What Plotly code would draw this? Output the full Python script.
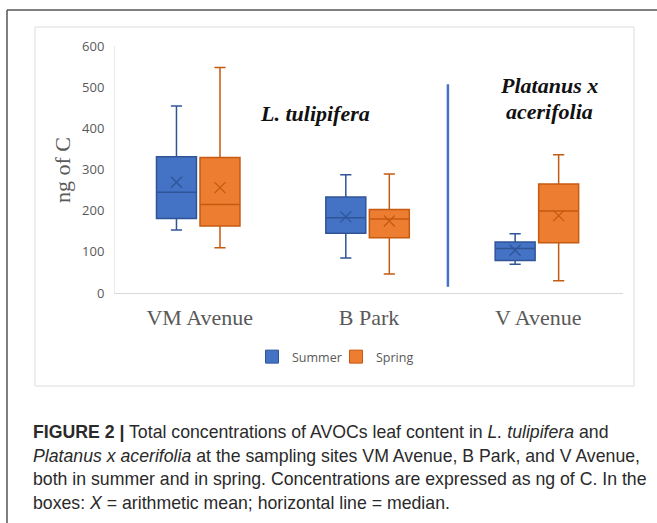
import plotly.graph_objects as go

# ---------------- data ----------------
sites = ["VM Avenue", "B Park", "V Avenue"]
y_ticks = [0, 100, 200, 300, 400, 500, 600]

summer_lower = [153, 85, 70]
summer_q1 = [181, 145, 79]
summer_median = [245, 183, 108]
summer_q3 = [331, 233, 124]
summer_upper = [454, 287, 144]
summer_mean = [269, 185, 104]

spring_lower = [110, 46, 30]
spring_q1 = [163, 134, 122]
spring_median = [215, 180, 199]
spring_q3 = [329, 203, 265]
spring_upper = [548, 289, 336]
spring_mean = [256, 175, 188]

# ---------------- layout geometry ----------------
W, H = 657, 523
L, R, T, B = 115, 623, 46, 293  # plot area in pixels


def PX(px):
    return (px - L) / (R - L)


def PY(py):
    return (B - py) / (B - T)


SUM_FILL, SUM_LINE = "#4472C4", "#2F5597"
SPR_FILL, SPR_LINE = "#ED7D31", "#C55A11"
OFF_SUM, OFF_SPR = -0.137, 0.12
BOXW = 0.236

fig = go.Figure()

for name, off, lo, q1, med, q3, up, mean, fill, line in [
    ("Summer", OFF_SUM, summer_lower, summer_q1, summer_median, summer_q3,
     summer_upper, summer_mean, SUM_FILL, SUM_LINE),
    ("Spring", OFF_SPR, spring_lower, spring_q1, spring_median, spring_q3,
     spring_upper, spring_mean, SPR_FILL, SPR_LINE),
]:
    pos = [i + off for i in range(len(sites))]
    fig.add_trace(go.Box(
        x=pos, q1=q1, median=med, q3=q3, lowerfence=lo, upperfence=up,
        width=BOXW, whiskerwidth=0.28, fillcolor=fill,
        line=dict(color=line, width=1.5), showlegend=False,
        hoverinfo="skip", boxpoints=False,
    ))
    fig.add_trace(go.Scatter(
        x=pos, y=mean, mode="markers", showlegend=False, hoverinfo="skip",
        marker=dict(symbol="x-thin", size=11, line=dict(color=line, width=1.3)),
    ))
    # legend entry
    fig.add_trace(go.Scatter(
        x=[None], y=[None], mode="markers", name=name,
        marker=dict(symbol="square", size=13, color=fill,
                    line=dict(color=line, width=1)),
    ))

serif = "Liberation Serif, Times New Roman, serif"
sans = "Open Sans, Liberation Sans, sans-serif"
cap_font = "Liberation Sans, Arial, sans-serif"

shapes = [
    # inner chart frame
    dict(type="rect", xref="paper", yref="paper", x0=PX(35), x1=PX(634),
         y0=PY(27), y1=PY(386), line=dict(color="#dcdcdc", width=1), layer="below"),
    # outer page frame
    dict(type="line", xref="paper", yref="paper", x0=PX(7), x1=PX(660),
         y0=PY(10), y1=PY(10), line=dict(color="#555555", width=1.5)),
    dict(type="line", xref="paper", yref="paper", x0=PX(7), x1=PX(7),
         y0=PY(10), y1=PY(530), line=dict(color="#555555", width=1.5)),
    # species divider
    dict(type="line", xref="x", yref="y", x0=1.466, x1=1.466, y0=15, y1=507,
         line=dict(color="#4472C4", width=2.5)),
]

annotations = [
    dict(xref="paper", yref="paper", x=PX(62), y=PY(170), text="ng of C",
         xanchor="center", yanchor="middle",
         textangle=-90, showarrow=False, font=dict(family=serif, size=22, color="#595959")),
    dict(xref="paper", yref="paper", x=PX(315), y=PY(113), text="<b><i>L. tulipifera</i></b>",
         xanchor="center", yanchor="middle",
         showarrow=False, font=dict(family=serif, size=22, color="#111111")),
    dict(xref="paper", yref="paper", x=PX(549), y=PY(85), text="<b><i>Platanus x</i></b>",
         xanchor="center", yanchor="middle",
         showarrow=False, font=dict(family=serif, size=22, color="#111111")),
    dict(xref="paper", yref="paper", x=PX(549), y=PY(112), text="<b><i>acerifolia</i></b>",
         xanchor="center", yanchor="middle",
         showarrow=False, font=dict(family=serif, size=22, color="#111111")),
]

caption = [
    "<b>FIGURE 2 |</b> Total concentrations of AVOCs leaf content in <i>L. tulipifera</i> and",
    "<i>Platanus x acerifolia</i> at the sampling sites VM Avenue, B Park, and V Avenue,",
    "both in summer and in spring. Concentrations are expressed as ng of C. In the",
    "boxes: <i>X</i> = arithmetic mean; horizontal line = median.",
]
for k, line in enumerate(caption):
    annotations.append(dict(
        xref="paper", yref="paper", x=PX(31), y=PY(432 + 23.7 * k),
        xanchor="left", yanchor="middle", text=line, showarrow=False,
        font=dict(family=cap_font, size=17.7, color="#2a2a2a"),
    ))

fig.update_layout(
    width=W, height=H,
    margin=dict(l=L, r=W - R, t=T, b=H - B, pad=0),
    paper_bgcolor="white", plot_bgcolor="white",
    showlegend=True,
    legend=dict(orientation="h", x=PX(336), y=PY(357), xanchor="center",
                yanchor="middle", font=dict(family=sans, size=12.5, color="#595959"),
                itemwidth=30, entrywidth=39, entrywidthmode="pixels",
                bgcolor="rgba(0,0,0,0)"),
    xaxis=dict(range=[-0.5, 2.5], tickmode="array", tickvals=list(range(len(sites))),
               ticktext=sites, showgrid=False, zeroline=False, showline=True,
               linecolor="#d9d9d9", linewidth=1, ticks="", ticklabelstandoff=5,
               tickfont=dict(family=serif, size=22, color="#595959"), fixedrange=True),
    yaxis=dict(range=[0, 600], tickmode="array", tickvals=y_ticks,
               showgrid=False, zeroline=False, showline=True, linecolor="#ececec",
               linewidth=1, ticks="", ticklabelstandoff=7,
               tickfont=dict(family=sans, size=13, color="#595959"), fixedrange=True),
    shapes=shapes, annotations=annotations,
)

fig.write_html("out.html", config={"displayModeBar": False},
               post_script="document.body.style.margin='0';")
